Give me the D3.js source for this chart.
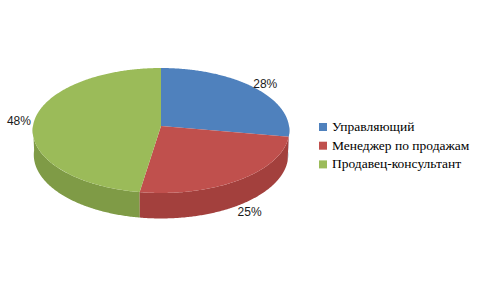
<!DOCTYPE html>
<html>
<head>
<meta charset="utf-8">
<script src="https://cdn.jsdelivr.net/npm/d3@7"></script>
<style>
  body { margin: 0; background: #fff; }
  svg { display: block; }
</style>
</head>
<body>
<svg id="chart" width="480" height="288"></svg>
<script>
// chart data
var categories = ["Управляющий", "Менеджер по продажам", "Продавец-консультант"];
var values = [28, 25, 48];
var palette = ["#4F81BD", "#C0504D", "#9BBB59"];
var sidePalette = ["#3E6799", "#A3403D", "#7F9B46"];

var width = 480, height = 288;
// pie centre on screen, radius, thickness, tilt and perspective
var cx = 161, cy = 126, R = 128, h = 28;
var elev = Math.asin(0.4856), focal = 1555;
var sinE = Math.sin(elev), cosE = Math.cos(elev);

var svg = d3.select("#chart");

var total = d3.sum(values);
var data = categories.map(function(c, i) {
  return { name: c, value: values[i] };
});

var pie = d3.pie()
  .sort(null)
  .value(function(d) { return d.value });

var arcs = pie(data);

var color = d3.scaleOrdinal().domain(categories).range(palette);
var sideColor = d3.scaleOrdinal().domain(categories).range(sidePalette);

// angle (0 = 12 o'clock, clockwise), radius, height -> screen point
function proj(a, r, y) {
  var X = r * Math.sin(a), Z = r * Math.cos(a);
  var vy = y * cosE + Z * sinE;
  var vz = -y * sinE + Z * cosE;
  var k = focal / (focal + vz);
  return [cx + X * k, cy - vy * k];
}

function rim(a0, a1, y) {
  var n = Math.max(2, Math.ceil((a1 - a0) / 0.01));
  return d3.range(n + 1).map(function(j) {
    return proj(a0 + (a1 - a0) * j / n, R, y);
  });
}

var line = d3.line();

// front walls
var walls = arcs.map(function(d) {
  var s = Math.max(d.startAngle, Math.PI / 2);
  var e = Math.min(d.endAngle, Math.PI * 3 / 2);
  return { d: d, s: s, e: e };
}).filter(function(w) { return w.e > w.s })
  .sort(function(a, b) {
    return Math.cos((b.s + b.e) / 2) - Math.cos((a.s + a.e) / 2)
  });

svg.append("g")
  .selectAll("path")
  .data(walls)
  .enter()
  .append("path")
  .attr("d", function(w) {
    var pts = rim(w.s, w.e, 0).concat(rim(w.s, w.e, -h).reverse());
    return line(pts) + "Z";
  })
  .attr("fill", function(w) { return sideColor(w.d.data.name) });

// top faces
svg.append("g")
  .selectAll("path")
  .data(arcs)
  .enter()
  .append("path")
  .attr("d", function(d) {
    var pts = [proj(0, 0, 0)].concat(rim(d.startAngle, d.endAngle, 0));
    return line(pts) + "Z";
  })
  .attr("fill", function(d) { return color(d.data.name) });

// percentage labels
svg.append("g")
  .selectAll("text")
  .data(arcs)
  .enter()
  .append("text")
  .attr("transform", function(d) {
    var m = (d.startAngle + d.endAngle) / 2;
    var p = proj(m, R * 1.12, Math.cos(m) < 0 ? -h : 0);
    return "translate(" + p[0] + "," + p[1] + ")";
  })
  .attr("dy", "0.35em")
  .attr("text-anchor", "middle")
  .attr("font-family", "Liberation Sans, Arial, sans-serif")
  .attr("font-size", "12")
  .attr("fill", "#1a1a1a")
  .text(function(d) { return Math.round(d.data.value / total * 100) + "%" });

// legend
var legend = svg.append("g")
  .selectAll("g")
  .data(categories)
  .enter()
  .append("g")
  .attr("transform", function(d, i) {
    return "translate(319," + (123 + i * 18.7) + ")"
  });

legend.append("rect")
  .attr("width", 8)
  .attr("height", 8)
  .attr("fill", function(d) { return color(d) });

legend.append("text")
  .attr("x", 13)
  .attr("y", 8)
  .attr("font-family", "Liberation Serif, Times New Roman, serif")
  .attr("font-size", "13.5")
  .attr("fill", "#000")
  .text(function(d) { return d });
</script>
</body>
</html>
